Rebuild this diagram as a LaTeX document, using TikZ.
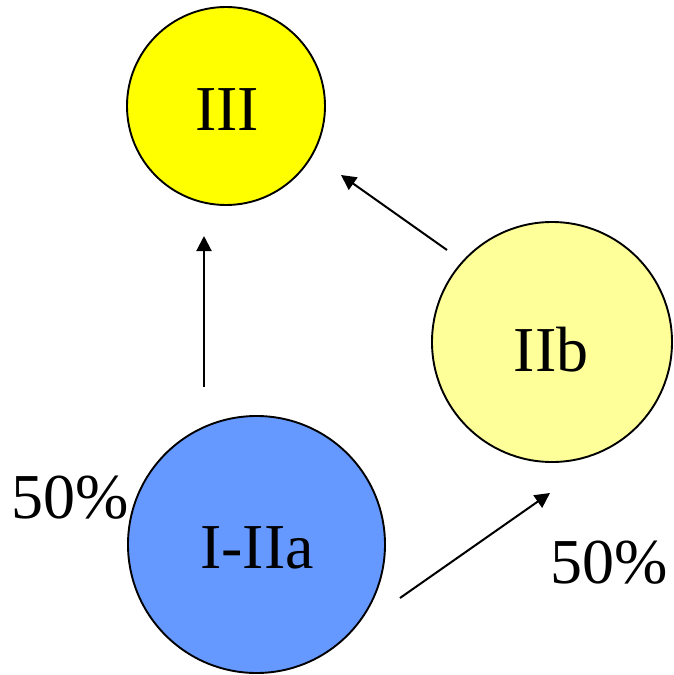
\documentclass[tikz,border=0pt]{standalone}
\usepackage{fontspec}
\setmainfont{Liberation Serif}
\newfontfamily\labelfont{Liberation Serif}
\usetikzlibrary{arrows.meta}
\definecolor{stageyellow}{HTML}{FFFF00}
\definecolor{paleyellow}{HTML}{FFFF99}
\definecolor{stageblue}{HTML}{6699FF}
\begin{document}
\begin{tikzpicture}[x=1pt,y=-1pt,
  stage/.style={circle, draw=black, line width=1.9pt, inner sep=0pt},
  stagetext/.style={anchor=base, inner sep=0pt, font=\labelfont\fontsize{64}{64}\selectfont},
  flow/.style={line width=2pt, -{Triangle[length=15pt,width=15pt]}}]
  \useasboundingbox (0,0) rectangle (673,675);

  % stages
  \node[stage, fill=stageyellow, minimum size=198pt] (s3) at (226,106) {};
  \node[stage, fill=paleyellow, minimum size=240pt] (s2b) at (552,342) {};
  \node[stage, fill=stageblue, minimum size=257pt] (s12a) at (256.5,544.5) {};

  % stage names
  \node[stagetext] (t3) at (227,130) {III};
  \node[stagetext] (t2b) at (551,371) {IIb};
  \node[stagetext] (t12a) at (257,568) {I-IIa};

  % shares
  \node[stagetext] (pleft) at (70,518) {50\%};
  \node[stagetext] (pright) at (609,583) {50\%};

  % arrow end points
  \coordinate (a1s) at (204,387);
  \coordinate (a1e) at (204,236);
  \coordinate (a2s) at (447,250);
  \coordinate (a2e) at (341,175);
  \coordinate (a3s) at (400,598);
  \coordinate (a3e) at (550,493);

  \draw[flow] (a1s) -- (a1e);
  \draw[flow] (a2s) -- (a2e);
  \draw[flow] (a3s) -- (a3e);
\end{tikzpicture}
\end{document}
